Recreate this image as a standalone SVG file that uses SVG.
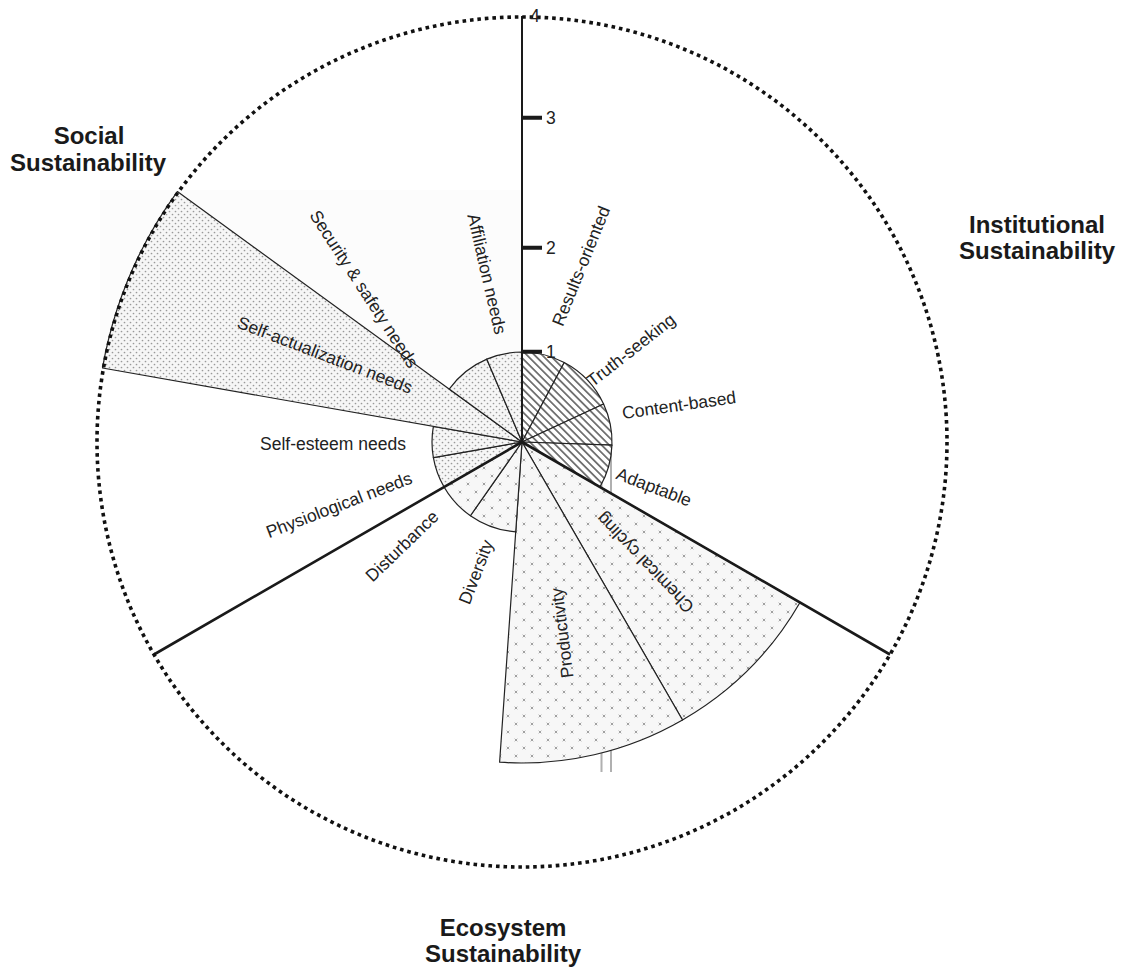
<svg xmlns="http://www.w3.org/2000/svg" width="1124" height="972" viewBox="0 0 1124 972">
<style>
.lbl{font-family:"Liberation Sans",Arial,sans-serif;font-size:17.5px;fill:#222;text-anchor:middle}
.ttl{font-family:"Liberation Sans",Arial,sans-serif;font-size:24px;font-weight:bold;fill:#1a1a1a;text-anchor:middle}
.sec{stroke:#222;stroke-width:1.2;stroke-linejoin:round}
.inst{fill:url(#hatch)}
.soc{fill:url(#dots)}
.eco{fill:url(#xs)}
.thick{stroke:#1a1a1a;stroke-width:2.6;fill:none}
.tick{stroke:#1a1a1a;stroke-width:4}
.art{stroke:#b0b0b0;stroke-width:2;fill:none}
</style>
<defs>
<pattern id="hatch" patternUnits="userSpaceOnUse" width="5.4" height="5.4" patternTransform="rotate(45)">
<rect width="5.4" height="5.4" fill="#fff"/>
<line x1="0" y1="2.7" x2="5.4" y2="2.7" stroke="#3a3a3a" stroke-width="1.3"/>
</pattern>
<pattern id="dots" patternUnits="userSpaceOnUse" width="6" height="6">
<rect width="6" height="6" fill="#f6f6f6"/>
<circle cx="1.5" cy="1.5" r="0.85" fill="#999"/>
<circle cx="4.5" cy="4.5" r="0.85" fill="#999"/>
</pattern>
<pattern id="xs" patternUnits="userSpaceOnUse" width="16" height="16">
<rect width="16" height="16" fill="#f7f7f7"/>
<path d="M2.7 2.7l2.6 2.6M5.3 2.7l-2.6 2.6M10.7 10.7l2.6 2.6M13.3 10.7l-2.6 2.6" stroke="#a0a0a0" stroke-width="1"/>
</pattern>
</defs>
<rect width="1124" height="972" fill="#fff"/>
<rect x="100" y="190" width="422" height="180" fill="#fcfcfc"/>
<g id="artifacts">
<path class="art" d="M601.5 446V772M611 446V772"/>
<path d="M520 460V478" stroke="#555" stroke-width="2"/>
</g>
<g id="institutional">
<path class="sec inst" d="M522 442L522 352A90 90 0 0 1 564.25 362.54Z"/>
<path class="sec inst" d="M522 442L564.25 362.54A90 90 0 0 1 603.57 403.97Z"/>
<path class="sec inst" d="M522 442L603.57 403.97A90 90 0 0 1 611.95 445.14Z"/>
<path class="sec inst" d="M522 442L611.95 445.14A90 90 0 0 1 599.94 487Z"/>
</g>
<g id="ecosystem">
<path class="sec eco" d="M522 442L800 602.5A321 321 0 0 1 682.5 720Z"/>
<path class="sec eco" d="M522 442L682.5 720A321 321 0 0 1 499.61 762.22Z"/>
<path class="sec eco" d="M522 442L515.72 531.78A90 90 0 0 1 470.38 515.73Z"/>
<path class="sec eco" d="M522 442L470.38 515.73A90 90 0 0 1 444.06 487Z"/>
</g>
<g id="social">
<path class="sec soc" d="M522 442L444.06 487A90 90 0 0 1 433.37 457.63Z"/>
<path class="sec soc" d="M522 442L433.37 457.63A90 90 0 0 1 433.37 426.37Z"/>
<path class="sec soc" d="M522 442L102.47 368.03A426 426 0 0 1 177.37 191.6Z"/>
<path class="sec soc" d="M522 442L449.19 389.1A90 90 0 0 1 486.84 359.16Z"/>
<path class="sec soc" d="M522 442L486.84 359.16A90 90 0 0 1 522 352Z"/>
</g>
<g id="connectors">
<path class="thick" d="M522 442L890 654.5M522 442L154 654.5"/>
<path d="M522 442V16" stroke="#1a1a1a" stroke-width="2"/>
<path class="tick" d="M522 351.7h20M522 247.7h20M522 117.7h20"/>
</g>
<circle id="boundary" cx="522" cy="442" r="425" fill="none" stroke="#111" stroke-width="3.6" stroke-dasharray="3.6 3.9"/>
<g id="scale">
<text class="lbl" x="546" y="358" style="text-anchor:start">1</text>
<text class="lbl" x="546" y="254" style="text-anchor:start">2</text>
<text class="lbl" x="546" y="124" style="text-anchor:start">3</text>
<text class="lbl" x="530" y="22" style="text-anchor:start">4</text>
</g>
<g id="labels">
<text class="lbl" transform="translate(581,266) rotate(-68)" y="6">Results-oriented</text>
<text class="lbl" transform="translate(631,350) rotate(-38)" y="6">Truth-seeking</text>
<text class="lbl" transform="translate(679,405) rotate(-8)" y="6">Content-based</text>
<text class="lbl" transform="translate(654,487) rotate(21)" y="6">Adaptable</text>
<text class="lbl" transform="translate(645,563) rotate(-134)" y="6">Chemical cycling</text>
<text class="lbl" transform="translate(562,633) rotate(-97)" y="6">Productivity</text>
<text class="lbl" transform="translate(476,572) rotate(-69)" y="6">Diversity</text>
<text class="lbl" transform="translate(402,546) rotate(-44)" y="6">Disturbance</text>
<text class="lbl" transform="translate(339,505) rotate(-21)" y="6">Physiological needs</text>
<text class="lbl" x="333" y="450">Self-esteem needs</text>
<text class="lbl" transform="translate(325,355) rotate(21)" y="6">Self-actualization needs</text>
<text class="lbl" transform="translate(364,289) rotate(57)" y="6">Security &amp; safety needs</text>
<text class="lbl" transform="translate(487,274) rotate(77)" y="6">Affiliation needs</text>
</g>
<g id="titles">
<text class="ttl" x="89" y="144">Social</text>
<text class="ttl" x="88" y="171">Sustainability</text>
<text class="ttl" x="1037" y="233">Institutional</text>
<text class="ttl" x="1037" y="259">Sustainability</text>
<text class="ttl" x="503" y="936">Ecosystem</text>
<text class="ttl" x="503" y="962">Sustainability</text>
</g>
</svg>
